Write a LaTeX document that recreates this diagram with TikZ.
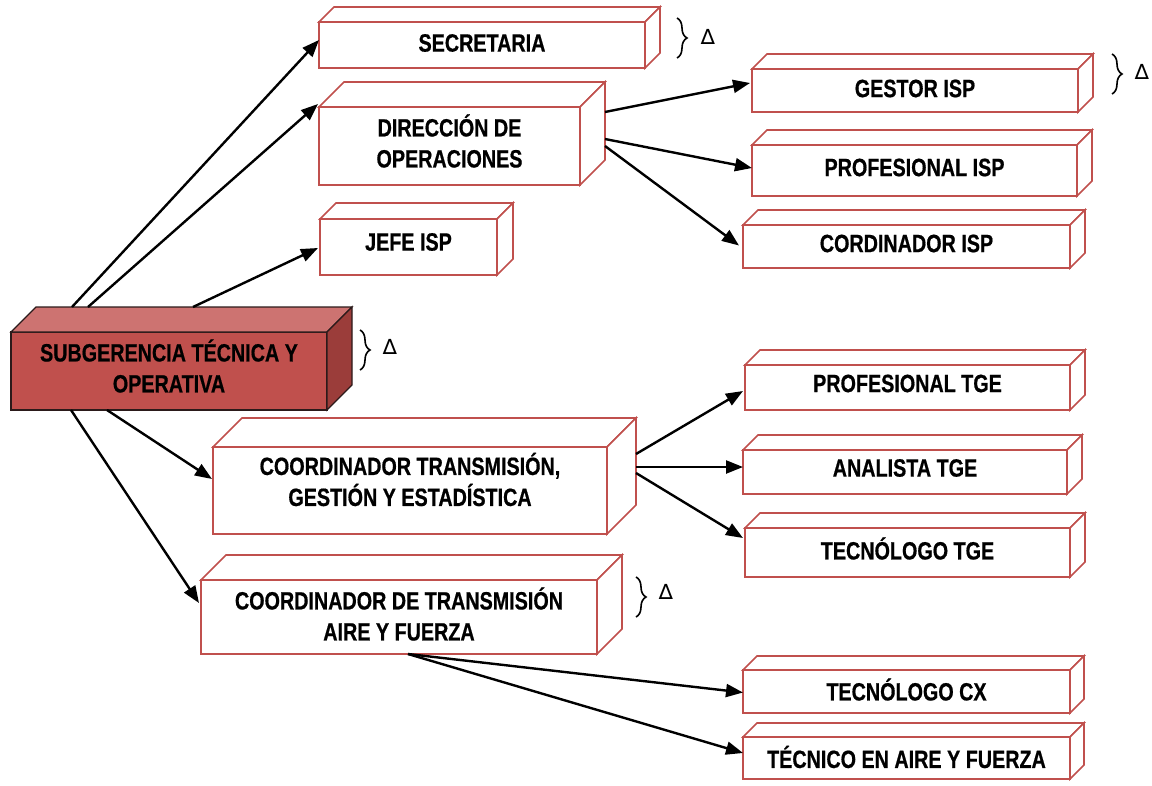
\documentclass[tikz,border=0pt]{standalone}
\usepackage{fontspec}
\setmainfont{Liberation Sans}[FakeStretch=0.79,FakeBold=0.6]
\newfontfamily\deltafont{DejaVu Sans}
\usetikzlibrary{arrows.meta,calc,decorations.pathreplacing}
\definecolor{boxred}{HTML}{C0504D}
\definecolor{redfront}{HTML}{C0504D}
\definecolor{redtop}{HTML}{CD7371}
\definecolor{redside}{HTML}{9B3D3A}
\definecolor{darkedge}{HTML}{2B1A1A}
\tikzset{
  wfront/.style={draw=boxred,line width=1.6pt,fill=white,inner sep=0pt,outer sep=0pt,line join=miter},
  wtop/.style={draw=boxred,line width=1.6pt,fill=white,line join=miter},
  wside/.style={draw=boxred,line width=1.6pt,fill=white,line join=miter},
  rfront/.style={draw=darkedge,line width=1.3pt,fill=redfront,inner sep=0pt,outer sep=0pt,line join=miter},
  rtop/.style={draw=darkedge,line width=1.3pt,fill=redtop,line join=miter},
  rside/.style={draw=darkedge,line width=1.3pt,fill=redside,line join=miter},
  txt/.style={font=\fontsize{25}{31}\selectfont\bfseries,align=center,inner sep=0pt,text=black},
  conn/.style={line width=2.4pt,-{Triangle[length=17pt,width=13pt]}},
  brc/.style={decorate,decoration={brace,amplitude=10pt},line width=1.6pt},
  dlt/.style={font=\deltafont\fontsize{21}{21}\selectfont,inner sep=0pt}
}
\newcommand\cubebox[9]{%
  \node[#7front,minimum width={#4-#2},minimum height={#5-#3},anchor=north west] (#1) at (#2,#3) {};
  \draw[#7top] (#1.north west) -- ++(#6,-#6) -- ([shift={(#6,-#6)}]#1.north east) -- (#1.north east) -- cycle;
  \draw[#7side] (#1.north east) -- ++(#6,-#6) -- ([shift={(#6,-#6)}]#1.south east) -- (#1.south east) -- cycle;
  \node[txt] (#1-t) at ([yshift=#8pt]#1.center) {#9};
}
\begin{document}
\begin{tikzpicture}[x=1pt,y=-1pt]
\useasboundingbox (0,0) rectangle (1152,785);
% boxes
\cubebox{sec}{319}{22}{645}{68}{15}{w}{2}{SECRETARIA}
\cubebox{dir}{319}{107}{580}{185}{25}{w}{5}{DIRECCIÓN DE\\OPERACIONES}
\cubebox{jefe}{320}{219}{497}{275}{16}{w}{5}{JEFE ISP}
\cubebox{sub}{11}{332}{327}{410}{25}{r}{5}{SUBGERENCIA TÉCNICA Y\\OPERATIVA}
\cubebox{tge}{213}{447}{607}{534}{29}{w}{11}{COORDINADOR TRANSMISIÓN,\\GESTIÓN Y ESTADÍSTICA}
\cubebox{aire}{201}{580}{597}{654}{25}{w}{3}{COORDINADOR DE TRANSMISIÓN\\AIRE Y FUERZA}
\cubebox{gestor}{752}{69}{1078}{112}{15}{w}{2}{GESTOR ISP}
\cubebox{profisp}{752}{145}{1077}{196}{15}{w}{3}{PROFESIONAL ISP}
\cubebox{cordisp}{743}{225}{1070}{268}{15}{w}{3}{CORDINADOR ISP}
\cubebox{proftge}{745}{365}{1070}{410}{15}{w}{4}{PROFESIONAL TGE}
\cubebox{analista}{743}{450}{1067}{494}{15}{w}{4}{ANALISTA TGE}
\cubebox{tectge}{745}{528}{1070}{577}{15}{w}{4}{TECNÓLOGO TGE}
\cubebox{tcx}{743}{670}{1070}{713}{14}{w}{2}{TECNÓLOGO CX}
\cubebox{tec}{743}{737}{1070}{779}{14}{w}{1}{TÉCNICO EN AIRE Y FUERZA}
% connectors from subgerencia
\draw[conn] ([shift={(61,-25)}]sub.north west) -- ([shift={(0,18)}]sec.north west);
\draw[conn] ([shift={(77,-25)}]sub.north west) -- ([shift={(-1,-3)}]dir.north west);
\draw[conn] ([shift={(182,-25)}]sub.north west) -- ([shift={(-2,1)}]jefe.west);
\draw[conn] ([shift={(96,0)}]sub.south west) -- ([shift={(-1,32)}]tge.north west);
\draw[conn] ([shift={(60,0)}]sub.south west) -- ([shift={(-2,23)}]aire.north west);
% connectors from direccion
\draw[conn] ([shift={(25,5)}]dir.north east) -- ([shift={(-2,14)}]gestor.north west);
\draw[conn] ([shift={(25,32)}]dir.north east) -- ([shift={(0,23)}]profisp.north west);
\draw[conn] ([shift={(25,39)}]dir.north east) -- ([shift={(-4,-1)}]cordisp.west);
% connectors from coordinador TGE
\draw[conn] ([shift={(29,7)}]tge.north east) -- ([shift={(-2,26)}]proftge.north west);
\draw[conn] ([shift={(29,20)}]tge.north east) -- ([shift={(0,-5)}]analista.west);
\draw[conn] ([shift={(29,26)}]tge.north east) -- ([shift={(-2,10)}]tectge.north west);
% connectors from coordinador aire
\draw[conn] ([shift={(207,0)}]aire.south west) -- ([shift={(0,1)}]tcx.west);
\draw[conn] ([shift={(207,0)}]aire.south west) -- ([shift={(0,-5)}]tec.west);
% braces and deltas
\draw[brc] (677,18) -- (677,58);
\node[dlt] (d1) at (708,37) {∆};
\draw[brc] (1112,54) -- (1112,94);
\node[dlt] (d2) at (1142,72) {∆};
\draw[brc] (360,330) -- (360,370);
\node[dlt] (d3) at (390,347) {∆};
\draw[brc] (636,577) -- (636,617);
\node[dlt] (d4) at (666,592) {∆};
\end{tikzpicture}
\end{document}
